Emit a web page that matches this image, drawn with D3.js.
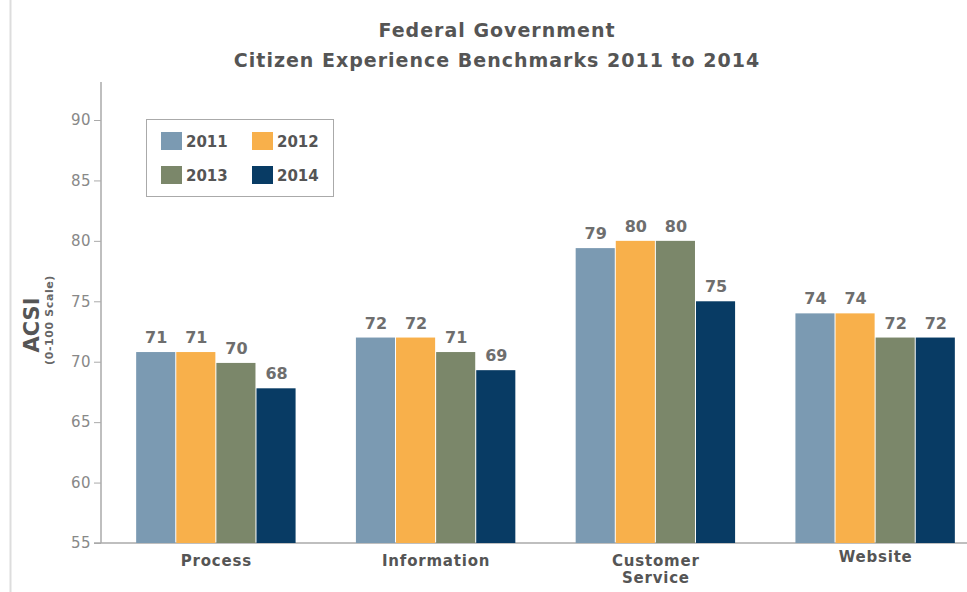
<!DOCTYPE html>
<html>
<head>
<meta charset="utf-8">
<script src="https://cdn.jsdelivr.net/npm/d3@7"></script>
<style>
  body { margin: 0; background: #fff; }
  svg { display: block; font-family: "DejaVu Sans", Arial, sans-serif; }
</style>
</head>
<body>
<svg id="chart"></svg>
<script>
// chart data
let categories = ["Process", "Information", "Customer Service", "Website"];
let years = ["2011", "2012", "2013", "2014"];
let values2011 = [70.8, 72.0, 79.4, 74.0];
let values2012 = [70.8, 72.0, 80.0, 74.0];
let values2013 = [69.9, 70.8, 80.0, 72.0];
let values2014 = [67.8, 69.3, 75.0, 72.0];
let yTicks = [55, 60, 65, 70, 75, 80, 85, 90];

let colors = ["#7b9ab2", "#f8b04b", "#7b876a", "#083b64"];

let width = 967, height = 592;
let svg = d3.select("#chart").attr("width", width).attr("height", height);

// frame line on the left
svg.append("line")
    .attr("x1", 10.5).attr("x2", 10.5).attr("y1", 0).attr("y2", height)
    .style("stroke", "#ddd").style("stroke-width", 2);

// title
svg.append("text")
    .attr("x", 497).attr("y", 37)
    .attr("text-anchor", "middle")
    .style("font-size", "19px").style("font-weight", "bold").style("fill", "#555")
    .style("letter-spacing", "1px")
    .text("Federal Government");
svg.append("text")
    .attr("x", 497).attr("y", 67)
    .attr("text-anchor", "middle")
    .style("font-size", "19px").style("font-weight", "bold").style("fill", "#555")
    .style("letter-spacing", "1px")
    .text("Citizen Experience Benchmarks 2011 to 2014");

// scales
let yScale = d3.scaleLinear().domain([55, 90]).range([543, 120]);

let xScale = d3.scaleBand()
    .domain(categories)
    .range([101, 991])
    .paddingInner(0.27)
    .paddingOuter(0.16);

let xInner = d3.scaleBand()
    .domain(years)
    .range([0, xScale.bandwidth()]);

// y axis
let yAxis = d3.axisLeft(yScale)
    .tickValues(yTicks)
    .tickSize(7)
    .tickPadding(3);

let yG = svg.append("g")
    .attr("transform", "translate(101,0)")
    .call(yAxis);
yG.select(".domain").remove();
yG.selectAll(".tick line").style("stroke", "#aaa");
yG.selectAll(".tick text")
    .style("font-size", "15px").style("fill", "#888")
    .style("letter-spacing", "0.5px")
    .style("font-family", "DejaVu Sans, Arial, sans-serif");

svg.append("line")
    .attr("x1", 101).attr("x2", 101).attr("y1", 82).attr("y2", 543)
    .style("stroke", "#aaa").style("stroke-width", 1.5);
svg.append("line")
    .attr("x1", 94).attr("x2", width).attr("y1", 543).attr("y2", 543)
    .style("stroke", "#aaa").style("stroke-width", 1.5);

// y label
svg.append("text")
    .attr("transform", "translate(39,325) rotate(-90)")
    .attr("text-anchor", "middle")
    .style("font-size", "21px").style("font-weight", "bold").style("fill", "#555")
    .text("ACSI");
svg.append("text")
    .attr("transform", "translate(53,320) rotate(-90)")
    .attr("text-anchor", "middle")
    .style("font-size", "11px").style("font-weight", "bold").style("fill", "#666")
    .style("letter-spacing", "0.6px")
    .text("(0-100 Scale)");

// build rows
let series = [values2011, values2012, values2013, values2014];
let rows = categories.map(function(c, i) {
    return { cat: c, vals: series.map(function(s, j) { return { year: years[j], v: s[i], k: j }; }) };
});

let groups = svg.selectAll(".group")
    .data(rows)
    .enter().append("g")
    .attr("class", "group")
    .attr("transform", function(d) { return "translate(" + xScale(d.cat) + ",0)"; });

groups.selectAll("rect")
    .data(function(d) { return d.vals; })
    .enter().append("rect")
    .attr("x", function(d) { return xInner(d.year); })
    .attr("width", xInner.bandwidth() - 1)
    .attr("y", function(d) { return yScale(d.v); })
    .attr("height", function(d) { return 543 - yScale(d.v); })
    .attr("fill", function(d) { return colors[d.k]; });

groups.selectAll(".val")
    .data(function(d) { return d.vals; })
    .enter().append("text")
    .attr("class", "val")
    .attr("x", function(d) { return xInner(d.year) + xInner.bandwidth() / 2; })
    .attr("y", function(d) { return yScale(d.v) - 9; })
    .attr("text-anchor", "middle")
    .style("font-size", "16px").style("font-weight", "bold").style("fill", "#6e6e6e")
    .text(function(d) { return Math.round(d.v); });

// category labels (Website sits a bit higher in the original)
groups.each(function(d) {
    let parts = d.cat === "Customer Service" ? ["Customer", "Service"] : [d.cat];
    let base = d.cat === "Website" ? 562 : 566;
    let t = d3.select(this).append("text")
        .attr("text-anchor", "middle")
        .style("font-size", "15px").style("font-weight", "bold").style("fill", "#555")
        .style("letter-spacing", "0.8px");
    parts.forEach(function(p, i) {
        t.append("tspan")
            .attr("x", xScale.bandwidth() / 2)
            .attr("y", base + i * 17)
            .text(p);
    });
});

// legend
let legend = svg.append("g").attr("transform", "translate(146,119)");
legend.append("rect")
    .attr("x", 0.5).attr("y", 0.5).attr("width", 187).attr("height", 77)
    .style("fill", "#fff").style("stroke", "#aaa");

let legendPos = [[15, 13], [106, 13], [15, 47], [106, 47]];
years.forEach(function(y, i) {
    let g = legend.append("g")
        .attr("transform", "translate(" + legendPos[i][0] + "," + legendPos[i][1] + ")");
    g.append("rect").attr("width", 21).attr("height", 18).attr("fill", colors[i]);
    g.append("text")
        .attr("x", 25).attr("y", 15)
        .style("font-size", "15px").style("font-weight", "bold").style("fill", "#555")
        .text(y);
});
</script>
</body>
</html>
